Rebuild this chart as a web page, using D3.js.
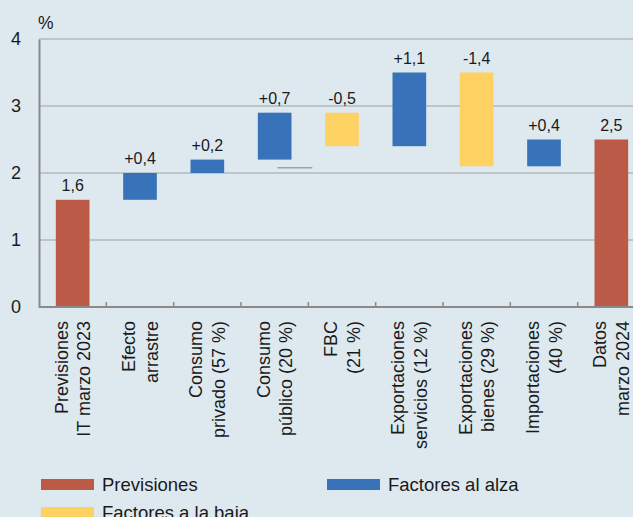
<!DOCTYPE html>
<html>
<head>
<meta charset="utf-8">
<script src="https://cdn.jsdelivr.net/npm/d3@7"></script>
<style>
  html, body { margin: 0; padding: 0; background: #dde9ef; overflow: hidden; }
  svg { display: block; font-family: "Liberation Sans", Arial, Helvetica, sans-serif; }
</style>
</head>
<body>
<svg id="chart" width="633" height="517"></svg>
<script>
// Category labels (two lines each, drawn rotated under the axis)
const categoryLines = [
  ["Previsiones", "IT marzo 2023"],
  ["Efecto", "arrastre"],
  ["Consumo", "privado (57 %)"],
  ["Consumo", "público (20 %)"],
  ["FBC", "(21 %)"],
  ["Exportaciones", "servicios (12 %)"],
  ["Exportaciones", "bienes (29 %)"],
  ["Importaciones", "(40 %)"],
  ["Datos", "marzo 2024"]
];
// Contribution of each step (totals for first and last)
const contributions = [1.6, 0.4, 0.2, 0.7, -0.5, 1.1, -1.4, 0.4, 2.5];
const kinds = ["total", "up", "up", "up", "down", "up", "down", "up", "total"];
const valueLabels = ["1,6", "+0,4", "+0,2", "+0,7", "-0,5", "+1,1", "-1,4", "+0,4", "2,5"];
const yTicks = [0, 1, 2, 3, 4];
const yTickLabels = ["0", "1", "2", "3", "4"];
const unitLabel = "%";
const legendKinds = ["total", "up", "down"];
const legendLabels = ["Previsiones", "Factores al alza", "Factores a la baja"];
// short level mark between "Consumo público" and "FBC"
const connectorLevel = 2.08;

const colors = { total: "#bb5a46", up: "#3873b9", down: "#fed163" };

const svg = d3.select("#chart");
const margin = { left: 39, top: 39, bottom: 307 };
const plotRight = 645;

const ids = categoryLines.map((d, i) => String(i));
const x = d3.scaleBand().domain(ids).range([margin.left, plotRight])
  .paddingInner(0.5).paddingOuter(0.25);
const y = d3.scaleLinear().domain([0, 4]).range([margin.bottom, margin.top]);

// Waterfall start/end values
let running = 0;
const bars = contributions.map((v, i) => {
  let start, end;
  if (kinds[i] === "total") { start = 0; end = v; running = v; }
  else { start = running; end = running + v; running = end; }
  return { id: ids[i], start, end, kind: kinds[i], label: valueLabels[i] };
});

// Gridlines
svg.append("g").selectAll("line").data(yTicks.filter(t => t > 0)).join("line")
  .attr("x1", margin.left).attr("x2", plotRight)
  .attr("y1", d => y(d)).attr("y2", d => y(d))
  .attr("stroke", "#b3b8bb").attr("stroke-width", 1.3);

// Y axis
const yAxis = svg.append("g").attr("transform", `translate(${margin.left},0)`)
  .call(d3.axisLeft(y).tickValues(yTicks).tickSize(0)
    .tickFormat((d, i) => yTickLabels[i]).tickPadding(18));
yAxis.select(".domain").attr("stroke", "#8a8a8a").attr("stroke-width", 2);
yAxis.selectAll("text").attr("font-size", 18).attr("fill", "#1a1a1a")
  .attr("font-family", "Liberation Sans, Arial, sans-serif");

svg.append("text").attr("x", margin.left - 1).attr("y", 29)
  .attr("font-size", 17.5).attr("fill", "#1a1a1a").text(unitLabel);

// Bars
svg.append("g").selectAll("rect").data(bars).join("rect")
  .attr("x", d => x(d.id)).attr("width", x.bandwidth())
  .attr("y", d => y(Math.max(d.start, d.end)))
  .attr("height", d => Math.abs(y(d.start) - y(d.end)))
  .attr("fill", d => colors[d.kind]);

// Level mark
svg.append("line")
  .attr("x1", x(ids[3]) + x.bandwidth() * 0.58)
  .attr("x2", x(ids[4]) - x.bandwidth() * 0.38)
  .attr("y1", y(connectorLevel)).attr("y2", y(connectorLevel))
  .attr("stroke", "#9ea4a8").attr("stroke-width", 1.5);

// Value labels
svg.append("g").selectAll("text").data(bars).join("text")
  .attr("x", d => x(d.id) + x.bandwidth() / 2)
  .attr("y", d => y(Math.max(d.start, d.end)) - 9)
  .attr("text-anchor", "middle").attr("font-size", 16).attr("fill", "#1a1a1a")
  .text(d => d.label);

// X axis line with inner ticks at category boundaries
svg.append("line").attr("x1", margin.left).attr("x2", plotRight)
  .attr("y1", y(0)).attr("y2", y(0))
  .attr("stroke", "#8a8a8a").attr("stroke-width", 2);
const step = x.step();
svg.append("g").selectAll("line").data(ids.slice(1)).join("line")
  .attr("x1", d => x(d) - step * 0.25).attr("x2", d => x(d) - step * 0.25)
  .attr("y1", y(0)).attr("y2", y(0) - 5)
  .attr("stroke", "#8a8a8a").attr("stroke-width", 1.5);

// Rotated category labels
const catG = svg.append("g").selectAll("g").data(categoryLines).join("g")
  .attr("transform", (d, i) => `translate(${x(ids[i]) + x.bandwidth() / 2},321) rotate(-90)`);
catG.each(function (lines) {
  const g = d3.select(this);
  lines.forEach((t, j) => {
    g.append("text").attr("x", 0).attr("y", j === 0 ? -5 : 17.5)
      .attr("text-anchor", "end").attr("font-size", 18).attr("fill", "#1a1a1a")
      .text(t);
  });
});

// Legend
const legendPos = [[41, 479], [327, 479], [41, 507]];
const lg = svg.append("g").selectAll("g").data(legendKinds).join("g")
  .attr("transform", (d, i) => `translate(${legendPos[i][0]},${legendPos[i][1]})`);
lg.append("rect").attr("width", 53).attr("height", 11).attr("fill", d => colors[d]);
lg.append("text").attr("x", 61).attr("y", 12).attr("font-size", 18.5).attr("fill", "#1a1a1a")
  .text((d, i) => legendLabels[i]);
</script>
</body>
</html>
